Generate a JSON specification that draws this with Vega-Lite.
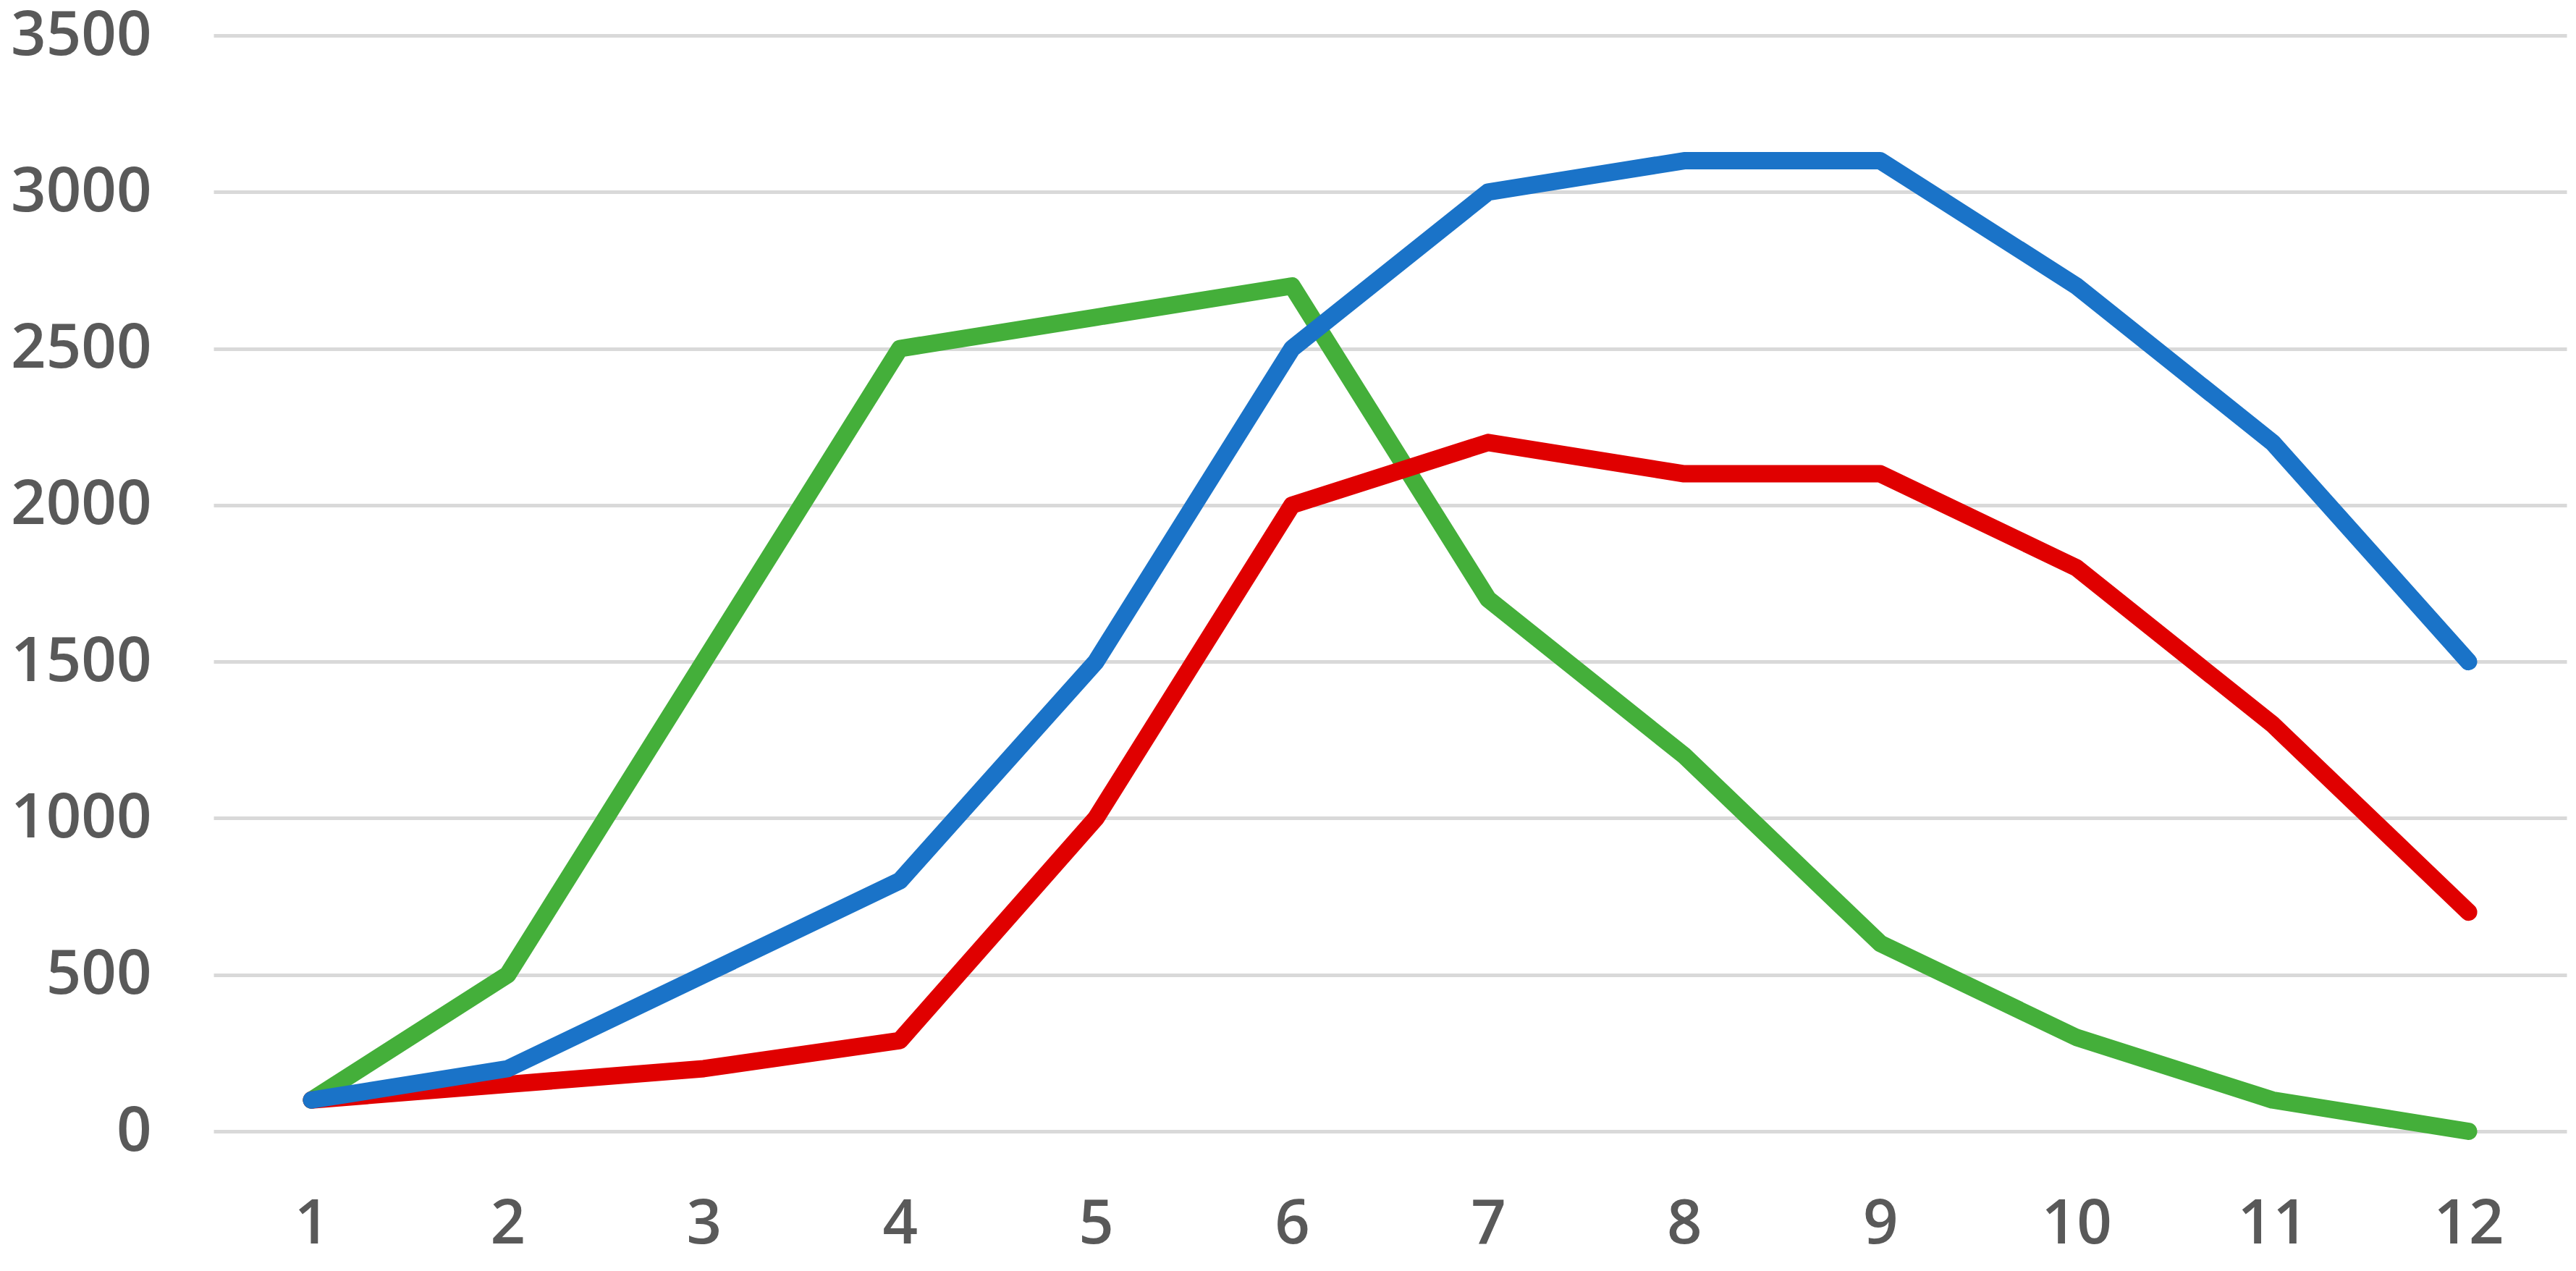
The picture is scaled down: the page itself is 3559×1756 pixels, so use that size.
{
  "$schema": "https://vega.github.io/schema/vega-lite/v6.json",
  "autosize": {"type": "none"},
  "width": 3251,
  "height": 1514,
  "padding": {"left": 295, "top": 49, "right": 13, "bottom": 193},
  "background": "white",
  "config": {
    "view": {"stroke": null},
    "axis": {
      "labelFont": "Open Sans",
      "labelFontSize": 85,
      "labelFontWeight": 600,
      "labelColor": "#595959",
      "labelLimit": 0,
      "domain": false,
      "ticks": false,
      "title": null
    }
  },
  "data": {
    "values": [
      {"month": "1", "series": "S1", "value": 100},
      {"month": "2", "series": "S1", "value": 500},
      {"month": "3", "series": "S1", "value": 1500},
      {"month": "4", "series": "S1", "value": 2500},
      {"month": "5", "series": "S1", "value": 2600},
      {"month": "6", "series": "S1", "value": 2700},
      {"month": "7", "series": "S1", "value": 1700},
      {"month": "8", "series": "S1", "value": 1200},
      {"month": "9", "series": "S1", "value": 600},
      {"month": "10", "series": "S1", "value": 300},
      {"month": "11", "series": "S1", "value": 100},
      {"month": "12", "series": "S1", "value": 0},
      {"month": "1", "series": "S2", "value": 100},
      {"month": "2", "series": "S2", "value": 150},
      {"month": "3", "series": "S2", "value": 200},
      {"month": "4", "series": "S2", "value": 290},
      {"month": "5", "series": "S2", "value": 1000},
      {"month": "6", "series": "S2", "value": 2000},
      {"month": "7", "series": "S2", "value": 2200},
      {"month": "8", "series": "S2", "value": 2100},
      {"month": "9", "series": "S2", "value": 2100},
      {"month": "10", "series": "S2", "value": 1800},
      {"month": "11", "series": "S2", "value": 1300},
      {"month": "12", "series": "S2", "value": 700},
      {"month": "1", "series": "S3", "value": 100},
      {"month": "2", "series": "S3", "value": 200},
      {"month": "3", "series": "S3", "value": 500},
      {"month": "4", "series": "S3", "value": 800},
      {"month": "5", "series": "S3", "value": 1500},
      {"month": "6", "series": "S3", "value": 2500},
      {"month": "7", "series": "S3", "value": 3000},
      {"month": "8", "series": "S3", "value": 3100},
      {"month": "9", "series": "S3", "value": 3100},
      {"month": "10", "series": "S3", "value": 2700},
      {"month": "11", "series": "S3", "value": 2200},
      {"month": "12", "series": "S3", "value": 1500}
    ]
  },
  "mark": {"type": "line", "strokeWidth": 24, "strokeCap": "round", "strokeJoin": "round"},
  "encoding": {
    "x": {
      "field": "month",
      "type": "ordinal",
      "sort": ["1","2","3","4","5","6","7","8","9","10","11","12"],
      "scale": {"type": "point", "padding": 0.5},
      "axis": {"labelAngle": 0, "labelPadding": 87, "grid": false}
    },
    "y": {
      "field": "value",
      "type": "quantitative",
      "scale": {"domain": [0, 3500], "nice": false},
      "axis": {
        "values": [0, 500, 1000, 1500, 2000, 2500, 3000, 3500],
        "format": "d",
        "labelPadding": 86,
        "grid": true,
        "gridColor": "#D9D9D9",
        "gridWidth": 5
      }
    },
    "color": {
      "field": "series",
      "type": "nominal",
      "scale": {"domain": ["S1", "S2", "S3"], "range": ["#44AF3A", "#E00000", "#1A73C8"]},
      "legend": null
    }
  }
}
